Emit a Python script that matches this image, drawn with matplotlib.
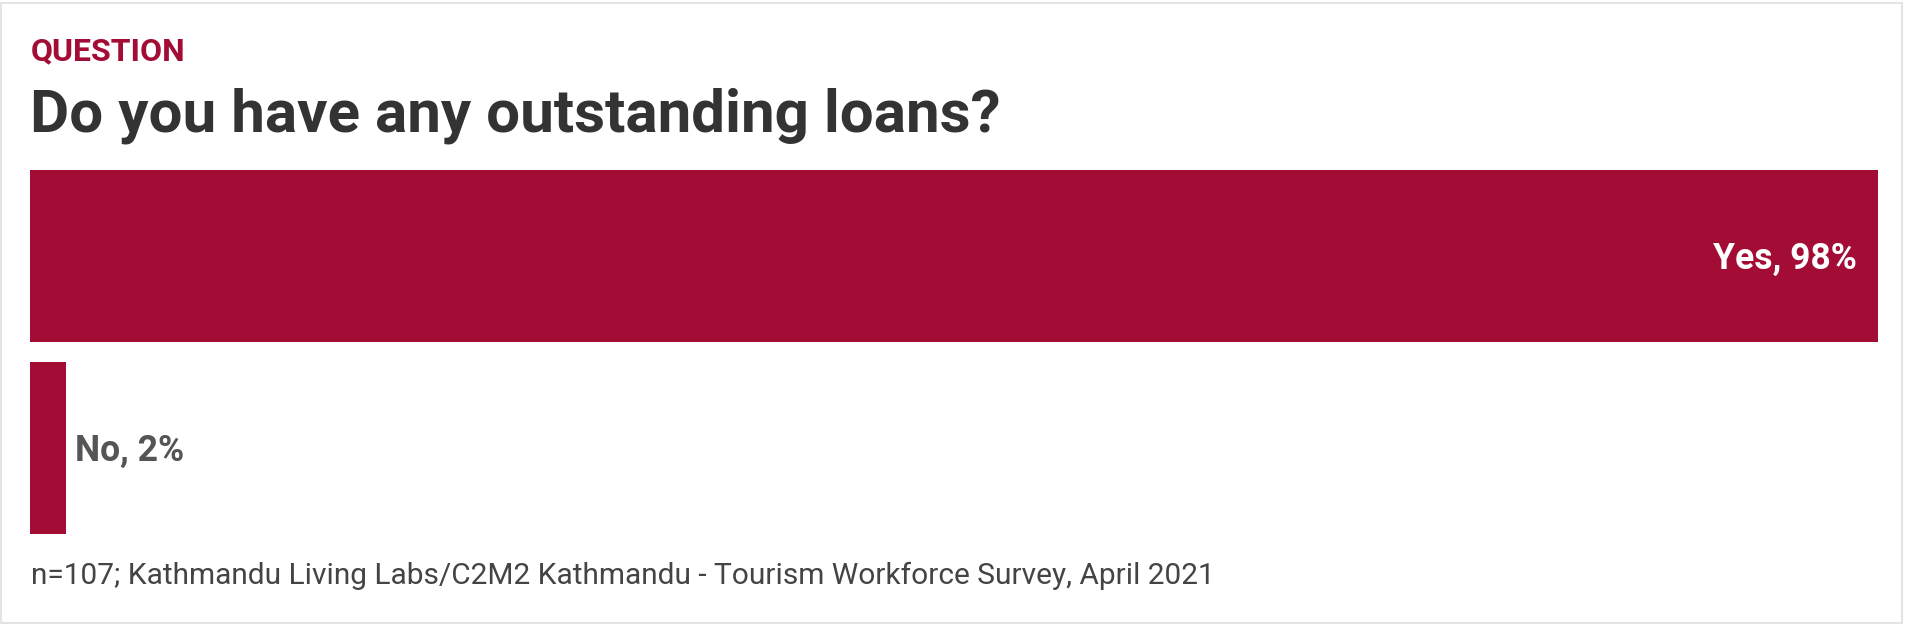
import matplotlib.pyplot as plt
from matplotlib.patches import Rectangle

plt.rcParams['font.family'] = ['Roboto', 'DejaVu Sans']

# data: n=107 respondents
answers = ['Yes', 'No']
shares = [98.1, 1.9]
labels = ['Yes, 98%', 'No, 2%']

bar_color = '#a20c35'
W, H = 1908, 624

fig = plt.figure(figsize=(W / 100, H / 100), dpi=100)
fig.patch.set_facecolor('white')

# light card border
fig.patches.append(Rectangle((1 / W, 1 / H), 1901 / W, 620 / H, transform=fig.transFigure,
                             fill=False, edgecolor='#e4e4e4', linewidth=1.5))

ax = fig.add_axes([30 / W, 1 - 534 / H, 1848 / W, 364 / H])
pos = list(range(len(answers)))
bar_h = 172 / 192
ax.barh(pos, shares, height=bar_h, color=bar_color)
ax.set_xlim(0, max(shares))
ax.set_ylim(len(answers) - 1 + bar_h / 2, -bar_h / 2)
ax.axis('off')

for i, (v, lab) in enumerate(zip(shares, labels)):
    if v > 50:
        ax.annotate(lab, (v, i), xytext=(-15, -9.2), textcoords='offset points',
                    ha='right', va='baseline', color='white', fontsize=25.6, fontweight='bold')
    else:
        ax.annotate(lab, (v, i), xytext=(6.5, -9.3), textcoords='offset points',
                    ha='left', va='baseline', color='#555555', fontsize=25.6, fontweight='bold')

fig.text(31 / W, 1 - 60 / H, 'QUESTION', color=bar_color, fontsize=23,
         fontweight='bold', va='baseline')
fig.text(30 / W, 1 - 131 / H, 'Do you have any outstanding loans?', color='#333333',
         fontsize=43.3, fontweight='bold', va='baseline')
fig.text(31 / W, 1 - 584 / H,
         'n=107; Kathmandu Living Labs/C2M2 Kathmandu - Tourism Workforce Survey, April 2021',
         color='#444444', fontsize=21.5, va='baseline')

fig.savefig('out.png', dpi=100, facecolor='white')
